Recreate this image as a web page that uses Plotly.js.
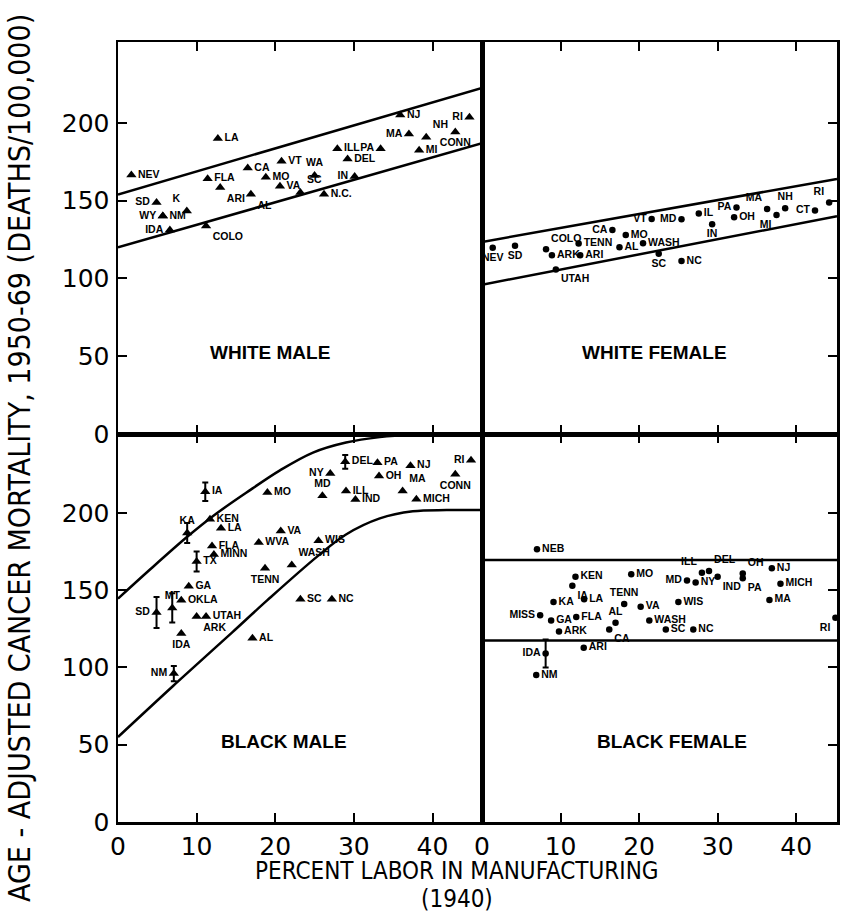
<!DOCTYPE html>
<html>
<head>
<meta charset="utf-8">
<script src="https://cdn.plot.ly/plotly-3.0.1.min.js"></script>
<style>html,body{margin:0;padding:0;background:#fff;}#chart{width:841px;height:921px;}</style>
</head>
<body>
<div id="chart"></div>
<script>
// ---------------- DATA ----------------
// White male
var wmStates = ['NEV','LA','SD','K','WY','NM','IDA','COLO','FLA','ARI','CA','AL','MO','VT','VA','WA','SC','N.C.','IN','DEL','ILL','PA','MA','NJ','NH','MI','RI','CONN'];
var wmX = [1.7,12.7,4.9,8.75,5.7,5.7,6.6,11.2,11.4,13.0,16.5,16.9,18.8,20.8,20.6,25.0,23.2,26.2,30.1,29.2,27.9,33.4,37.0,35.9,39.2,38.3,44.7,42.9];
var wmY = [166.5,190,148.8,143.4,140.2,140.2,131.2,133.8,164.1,158.5,171,154.2,165,175.3,159.2,166.2,155.3,154.2,165.6,176.8,183.4,183.4,192.9,205,190.8,182.4,203.7,194.2];
var wmLineX = [0, 46.3];
var wmUpperY = [154, 222.5];
var wmLowerY = [120, 187];

// White female
var wfStates = ['NEV','SD','COLO','ARK','TENN','ARI','UTAH','CA','MO','AL','WASH','VT','MD','SC','NC','IL','IN','PA','OH','MA','MI','NH','CT','RI'];
var wfX = [1.36,4.2,8.15,8.9,12.3,12.5,9.4,16.6,18.3,17.5,20.5,21.6,25.4,22.5,25.4,27.6,29.3,32.4,32.1,36.3,37.5,38.6,42.4,44.2];
var wfY = [119.8,121.1,118.7,115,122.4,115,105.8,131.2,128,120,122.6,138.3,138.1,115.9,111.2,141.7,134.8,145.6,139.4,144.7,140.8,145.2,143.7,148.8];
var wfLineX = [0, 45.2];
var wfUpperY = [123.5, 164];
var wfLowerY = [96, 140];

// Black male
var bmStates = ['MO','NY','MD','PA','OH','NJ','MA','MICH','RI','CONN','ILL','IND','KEN','LA','VA','FLA','WVA','WIS','MINN','WASH','TENN','GA','OKLA','UTAH','ARK','IDA','AL','SC','NC'];
var bmX = [19.0,27.0,26.0,33.0,33.2,37.2,36.2,37.95,44.9,42.9,29.0,30.2,11.7,13.1,20.7,11.96,17.9,25.5,12.2,22.1,18.7,9.0,8.05,11.2,10.0,8.05,17.1,23.2,27.2];
var bmY = [213.1,225.4,211,232.4,223.9,230.4,214.2,208.8,234,225,214.2,208.6,195.9,190.1,188.3,178.6,180.8,181.9,173.1,166.3,164.1,152.5,143.5,133,133,122,118.9,144.1,144.1];
var bmErrStates = ['IA','KA','TX','SD','MT','NM','DEL'];
var bmErrX = [11.1,8.8,10.0,4.9,6.9,7.1,28.9];
var bmErrY = [213.6,187,168.5,135.5,138.5,96,233];
var bmErr = [6,6.5,6.5,10,9.5,5,4.5];
var bmUpperX = [0,4,8.8,12.1,16.3,20.6,24.8,29.0,33.3,37.5,46.3];
var bmUpperY = [144.5,163,184.5,198,213,227.5,239,245.5,249,250.5,251];
var bmLowerX = [0,7,12.1,14.6,19,25.4,29,33.3,37.5,41.8,46.3];
var bmLowerY = [55,88,111.5,123,143.5,172,186,196.4,201,201.8,201.8];

// Black female
var bfStates = ['NEB','KEN','IA','KA','LA','MISS','GA','FLA','ARK','TENN','MO','AL','CA','VA','WASH','SC','NC','WIS','MD','NY','ILL','DEL','IND','OH','PA','NJ','MICH','MA','RI','ARI','NM'];
var bfX = [7.0,11.9,11.5,9.1,13.0,7.4,8.8,12.0,9.8,18.1,19.0,17.0,16.2,20.2,21.3,23.4,26.9,25.0,26.1,27.2,28.0,28.9,30.0,33.2,33.2,36.9,38.0,36.6,45.0,12.95,6.9];
var bfY = [176.4,158.6,152.8,142.4,144.1,133.7,130.4,132.7,123.2,141,160.3,128.9,124.6,139.2,130.4,124.6,124.6,142.4,156.3,154.9,161.3,162.4,158.6,160.7,157.7,164.1,154.2,143.7,132.2,112.8,95.1];
var bfErrStates = ['IDA'];
var bfErrX = [8.1];
var bfErrY = [109];
var bfErr = [9];
var bfLineX = [0, 45.2];
var bfUpperY = [169.5, 169.5];
var bfLowerY = [117.5, 117.5];

var xTicks = [0,10,20,30,40];
var yTicks = [0,50,100,150,200];

// -------------- LABEL PLACEMENT (style) --------------
var wmPos = ['middle right','middle right','middle left','top left','middle left','middle right','middle left','bottom right','middle right','bottom right','middle right','bottom right','middle right','middle right','middle right','top center','top right','middle right','middle left','middle right','middle right','middle left','middle left','middle right','top right','middle right','middle left','bottom center'];
var wfPos = ['bottom center','bottom center','top right','middle right','middle right','middle right','bottom right','middle left','middle right','middle right','middle right','middle left','middle left','bottom center','middle right','middle right','bottom center','middle left','middle right','top left','bottom left','top center','middle left','top left'];
var bmPos = ['middle right','middle left','top center','middle right','middle right','middle right','top right','middle right','middle left','bottom center','middle right','middle right','middle right','middle right','middle right','middle right','middle right','middle right','middle right','top right','bottom center','middle right','middle right','middle right','bottom right','bottom center','middle right','middle right','middle right'];
var bmErrPos = ['middle right','top center','middle right','middle left','top center','middle left','middle right'];
var bfPos = ['middle right','middle right','bottom right','middle right','middle right','middle left','middle right','middle right','middle right','top center','middle right','top center','bottom right','middle right','middle right','middle right','middle right','middle right','middle left','middle right','top left','top right','bottom right','top right','bottom right','middle right','middle right','middle right','bottom left','middle right','middle right'];
var bfErrPos = ['middle left'];

var labFont = {family:'Liberation Sans, Arial, sans-serif', size:10.5, color:'black', weight:'bold'};
var tri = {symbol:'triangle-up', size:9, color:'black'};
var dot = {symbol:'circle', size:6.5, color:'black'};

function pts(x,y,t,pos,mk,xa,ya){
  return {type:'scatter', mode:'markers+text', x:x, y:y, text:t, textposition:pos,
    textfont:labFont, marker:mk, xaxis:xa, yaxis:ya, cliponaxis:false, hoverinfo:'skip'};
}
function errpts(x,y,e,t,pos,mk,xa,ya){
  var tr = pts(x,y,t,pos,mk,xa,ya);
  tr.error_y = {type:'data', array:e, visible:true, color:'black', thickness:2, width:3};
  return tr;
}
function ln(x,y,xa,ya,spline){
  var l = {color:'black', width:2.5};
  if(spline){ l.shape='spline'; l.smoothing=1; }
  return {type:'scatter', mode:'lines', x:x, y:y, line:l, xaxis:xa, yaxis:ya, hoverinfo:'skip'};
}

var data = [
  ln(wmLineX, wmUpperY, 'x', 'y'),
  ln(wmLineX, wmLowerY, 'x', 'y'),
  pts(wmX, wmY, wmStates, wmPos, tri, 'x', 'y'),
  ln(wfLineX, wfUpperY, 'x2', 'y2'),
  ln(wfLineX, wfLowerY, 'x2', 'y2'),
  pts(wfX, wfY, wfStates, wfPos, dot, 'x2', 'y2'),
  ln(bmUpperX, bmUpperY, 'x3', 'y3', true),
  ln(bmLowerX, bmLowerY, 'x3', 'y3', true),
  pts(bmX, bmY, bmStates, bmPos, tri, 'x3', 'y3'),
  errpts(bmErrX, bmErrY, bmErr, bmErrStates, bmErrPos, tri, 'x3', 'y3'),
  ln(bfLineX, bfUpperY, 'x4', 'y4'),
  ln(bfLineX, bfLowerY, 'x4', 'y4'),
  pts(bfX, bfY, bfStates, bfPos, dot, 'x4', 'y4'),
  errpts(bfErrX, bfErrY, bfErr, bfErrStates, bfErrPos, dot, 'x4', 'y4')
];

var tickFont = {family:'DejaVu Sans, sans-serif', size:25, color:'black'};
var XSPLIT = 0.5063, YSPLIT = 0.4974;
function xax(dom, anchor, rng, labels){
  return {domain:dom, anchor:anchor, range:rng, tickvals:xTicks, ticktext:xTicks.map(String),
    ticks:'inside', ticklen:9, tickwidth:2, tickcolor:'black', mirror:'ticks',
    showline:true, linewidth:2.5, linecolor:'black', showgrid:false, zeroline:false,
    showticklabels:labels, tickfont:tickFont, ticklabelstandoff:0, fixedrange:true};
}
function yax(dom, anchor, rng, side, labels){
  return {domain:dom, anchor:anchor, range:rng, side:side, tickvals:yTicks, ticktext:yTicks.map(String),
    ticks:'inside', ticklen:9, tickwidth:2, tickcolor:'black', mirror:true,
    showline:true, linewidth:2.5, linecolor:'black', showgrid:false, zeroline:false,
    showticklabels:labels, tickfont:tickFont, ticklabelstandoff:1, fixedrange:true};
}

var panelFont = {family:'Liberation Sans, Arial, sans-serif', size:19, color:'black', weight:'bold'};
var titleFont = {family:'DejaVu Sans Condensed, DejaVu Sans, sans-serif', size:24, color:'black'};
var yTitleFont = {family:'DejaVu Sans Condensed, DejaVu Sans, sans-serif', size:30, color:'black'};

var layout = {
  width:841, height:921,
  margin:{l:118, r:4, t:42, b:99},
  paper_bgcolor:'white', plot_bgcolor:'white',
  showlegend:false,
  xaxis: xax([0, XSPLIT], 'y', [0, 46.3], false),
  yaxis: yax([YSPLIT, 1], 'x', [0, 252], 'left', true),
  xaxis2: xax([XSPLIT, 1], 'y2', [0, 45.2], false),
  yaxis2: yax([YSPLIT, 1], 'x2', [0, 252], 'right', false),
  xaxis3: xax([0, XSPLIT], 'y3', [0, 46.3], true),
  yaxis3: yax([0, YSPLIT], 'x3', [0, 251], 'left', true),
  xaxis4: xax([XSPLIT, 1], 'y4', [0, 45.2], true),
  yaxis4: yax([0, YSPLIT], 'x4', [0, 251], 'right', false),
  annotations:[
    {text:'WHITE MALE', x:19.3, y:52.7, xref:'x', yref:'y', showarrow:false, font:panelFont},
    {text:'WHITE FEMALE', x:22.0, y:52.7, xref:'x2', yref:'y2', showarrow:false, font:panelFont},
    {text:'BLACK MALE', x:21.1, y:52.4, xref:'x3', yref:'y3', showarrow:false, font:panelFont},
    {text:'BLACK FEMALE', x:24.2, y:52.4, xref:'x4', yref:'y4', showarrow:false, font:panelFont},
    {text:'AGE - ADJUSTED CANCER MORTALITY, 1950-69 (DEATHS/100,000)', xref:'paper', yref:'paper',
      x:-0.1363, y:0.4667, xanchor:'center', yanchor:'middle', textangle:-90, showarrow:false, font:yTitleFont},
    {text:'PERCENT LABOR IN MANUFACTURING', xref:'paper', yref:'paper', x:0.4715, y:-0.0625,
      xanchor:'center', yanchor:'middle', showarrow:false, font:titleFont},
    {text:'(1940)', xref:'paper', yref:'paper', x:0.4715, y:-0.0990,
      xanchor:'center', yanchor:'middle', showarrow:false, font:titleFont}
  ]
};

Plotly.newPlot('chart', data, layout, {staticPlot:true, displayModeBar:false});
</script>
</body>
</html>
